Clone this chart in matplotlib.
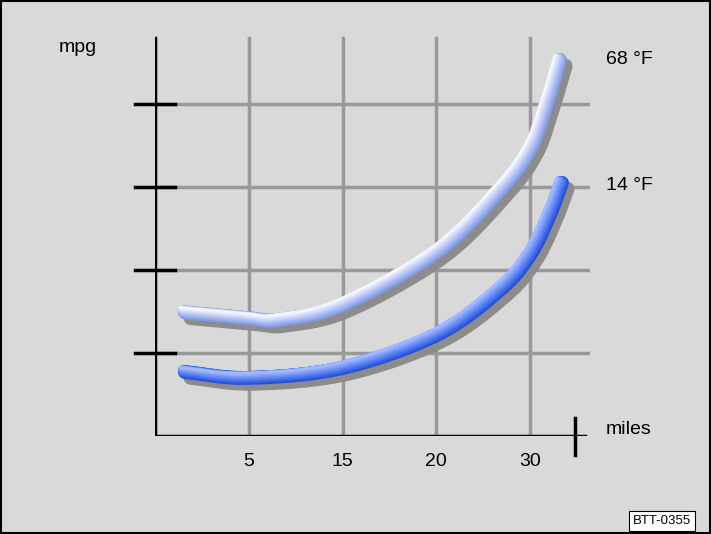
import numpy as np
import matplotlib.pyplot as plt
from matplotlib.patches import Rectangle
from matplotlib.colors import to_rgb

plt.rcParams['font.family'] = ['Liberation Sans', 'DejaVu Sans']

tick_labels = ["5", "15", "20", "30"]
tick_pos = [1, 2, 3, 4]
y_grid = [1, 2, 3, 4]

# curve points in grid units
warm_x = [0.32, 1.0, 1.33, 2.0, 3.01, 3.68, 4.0, 4.16, 4.32]
warm_y = [1.49, 1.42, 1.40, 1.58, 2.22, 2.96, 3.45, 3.93, 4.53]
cold_x = [0.32, 1.0, 2.0, 3.01, 3.68, 4.0, 4.21, 4.34]
cold_y = [0.77, 0.70, 0.82, 1.22, 1.76, 2.18, 2.66, 3.05]

fig = plt.figure(figsize=(7.11, 5.34), dpi=100)
fig.patch.set_facecolor("#d9d9d9")
fig.patches.append(Rectangle((0.001, 0.001), 0.998, 0.997, transform=fig.transFigure,
                             fill=False, edgecolor="black", linewidth=1.5))
ax = fig.add_axes([0.218, 0.1835, 0.612, 0.760])
ax.set_facecolor("none")
ax.set_xlim(0, 4.64)
ax.set_ylim(0, 4.89)
ax.axis("off")

for p in tick_pos:
    ax.plot([p, p], [0, 4.8], color="#999999", lw=2.5, zorder=1)
for v in y_grid:
    ax.plot([0, 4.64], [v, v], color="#999999", lw=2.5, zorder=1)
    ax.plot([-0.21, 0.21], [v, v], color="black", lw=2.5, clip_on=False, zorder=3)

ax.plot([0, 0], [0, 4.8], color="black", lw=2.5, zorder=3)
ax.plot([0, 4.59], [0, 0], color="black", lw=2.5, zorder=3)
ax.plot([4.48, 4.48], [0.22, -0.23], color="black", lw=2.5, clip_on=False, zorder=3)

def smooth(xs, ys, n=20):
    # Catmull-Rom through the read points
    P = np.column_stack([xs, ys])
    P = np.vstack([P[0] * 2 - P[1], P, P[-1] * 2 - P[-2]])
    out = []
    for i in range(1, len(P) - 2):
        p0, p1, p2, p3 = P[i - 1], P[i], P[i + 1], P[i + 2]
        for t in np.linspace(0, 1, n, endpoint=False):
            out.append(0.5 * (2 * p1 + (-p0 + p2) * t + (2 * p0 - 5 * p1 + 4 * p2 - p3) * t ** 2
                              + (-p0 + 3 * p1 - 3 * p2 + p3) * t ** 3))
    out.append(P[-2])
    out = np.array(out)
    return out[:, 0], out[:, 1]

def tube(xs, ys, dark, light):
    t, y = smooth(xs, ys)
    ax.plot(t + 0.06, y - 0.07, color="#8c8c8c", lw=10, solid_capstyle="round", zorder=4)
    d, l = np.array(to_rgb(dark)), np.array(to_rgb(light))
    for i, w in enumerate(np.linspace(10, 2, 8)):
        f = i / 7
        ax.plot(t - 0.008 * i, y + 0.008 * i, color=tuple(d + (l - d) * f), lw=w,
                solid_capstyle="round", zorder=5 + i)

tube(warm_x, warm_y, "#7f9ae8", "#f2f4ff")
tube(cold_x, cold_y, "#2050e0", "#9fb8ff")

for p, s in zip(tick_pos, tick_labels):
    fig.text((155 + p * 93.75) / 711, 1 - 462 / 534, s, ha="center", va="center", fontsize=14)
fig.text(78 / 711, 1 - 47 / 534, "mpg", ha="center", va="center", fontsize=14)
fig.text(606 / 711, 1 - 60 / 534, "68 °F", ha="left", va="center", fontsize=14)
fig.text(606 / 711, 1 - 186 / 534, "14 °F", ha="left", va="center", fontsize=14)
fig.text(606 / 711, 1 - 430 / 534, "miles", ha="left", va="center", fontsize=14)
fig.text(662 / 711, 1 - 521 / 534, "BTT-0355", ha="center", va="center", fontsize=9.5,
         bbox=dict(boxstyle="square,pad=0.3", facecolor="white", edgecolor="black", lw=0.8))

fig.savefig("out.png", dpi=100, facecolor=fig.get_facecolor())
